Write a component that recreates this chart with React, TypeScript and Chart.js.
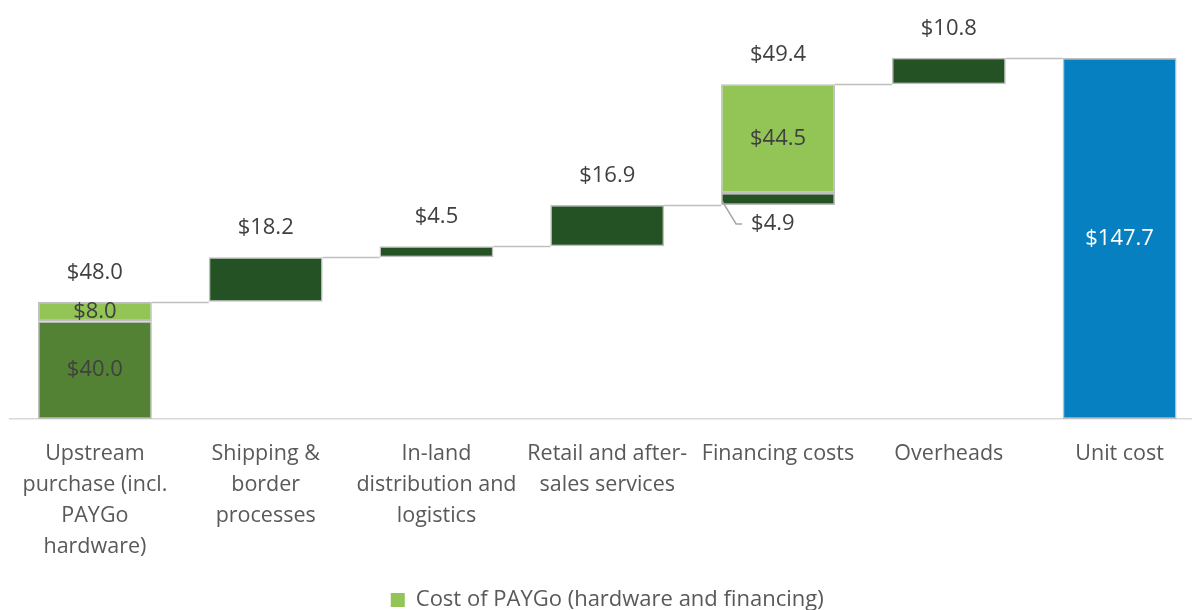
import React, { useEffect, useRef } from "react";
import { Chart, registerables } from "chart.js";

Chart.register(...registerables);

// ---- data ----
const categories: string[][] = [
  ["Upstream", "purchase (incl.", "PAYGo", "hardware)"],
  ["Shipping &", "border", "processes"],
  ["In-land", "distribution and", "logistics"],
  ["Retail and after-", "sales services"],
  ["Financing costs"],
  ["Overheads"],
  ["Unit cost"],
];
// total contribution of each step (label above bar)
const stepTotals = [48.0, 18.2, 4.5, 16.9, 49.4, 10.8];
// part of each step that is the cost of PAYGo
const paygoParts = [8.0, 0, 0, 0, 44.5, 0];
// non-PAYGo part of each step
const otherParts = [40.0, 18.2, 4.5, 16.9, 4.9, 10.8];
const unitCost = 147.7;
const legendLabel = "Cost of PAYGo (hardware and financing)";

const FONT = "'Open Sans', 'Liberation Sans', sans-serif";
const C_DARK = "#245224";
const C_MID = "#548235";
const C_LIGHT = "#92c555";
const C_BLUE = "#0680c0";
const C_BORDER = "#bfbfbf";
const C_TEXT = "#404040";

// build floating ranges
const starts: number[] = [];
{
  let acc = 0;
  for (const t of stepTotals) {
    starts.push(acc);
    acc += t;
  }
}
const n = categories.length;
const baseData: any[] = Array(n).fill(null);
const otherData: any[] = Array(n).fill(null);
const paygoData: any[] = Array(n).fill(null);
const totalData: any[] = Array(n).fill(null);
stepTotals.forEach((t, i) => {
  const s = starts[i];
  const o = otherParts[i];
  if (i === 0) baseData[i] = [s, s + o];
  else otherData[i] = [s, s + o];
  if (paygoParts[i] > 0) paygoData[i] = [s + o, s + o + paygoParts[i]];
});
totalData[n - 1] = [0, unitCost];

const fmt = (v: number) => "$" + v.toFixed(1);

const labelPlugin = {
  id: "waterfallLabels",
  afterDatasetsDraw(chart: any) {
    const ctx = chart.ctx;
    const x = chart.scales.x;
    const y = chart.scales.y;
    const barW = chart.getDatasetMeta(1).data[1].width;
    ctx.save();
    // connectors
    ctx.strokeStyle = C_BORDER;
    ctx.lineWidth = 1.5;
    for (let i = 0; i < n - 1; i++) {
      const level = i < stepTotals.length ? starts[i] + stepTotals[i] : unitCost;
      const py = Math.round(y.getPixelForValue(level)) + 0.5;
      const x1 = x.getPixelForValue(i) + barW / 2;
      const x2 = x.getPixelForValue(i + 1) - barW / 2;
      ctx.beginPath();
      ctx.moveTo(x1, py);
      ctx.lineTo(x2, py);
      ctx.stroke();
    }
    ctx.textAlign = "center";
    ctx.textBaseline = "middle";
    ctx.font = `22px ${FONT}`;
    ctx.fillStyle = C_TEXT;
    // totals above
    stepTotals.forEach((t, i) => {
      const top = y.getPixelForValue(starts[i] + t);
      ctx.fillText(fmt(t), x.getPixelForValue(i), top - 29);
    });
    // inner labels
    stepTotals.forEach((t, i) => {
      const cx = x.getPixelForValue(i);
      const s = starts[i];
      const o = otherParts[i];
      if (paygoParts[i] > 0) {
        const mid = y.getPixelForValue(s + o + paygoParts[i] / 2);
        ctx.fillStyle = C_TEXT;
        ctx.fillText(fmt(paygoParts[i]), cx, mid);
        if (i === 0) {
          ctx.fillText(fmt(o), cx, y.getPixelForValue(s + o / 2));
        } else {
          // leader label for small segment
          const bx = cx - barW / 2 + 1;
          const by = y.getPixelForValue(s) - 4;
          const ly = by + 23;
          ctx.beginPath();
          ctx.moveTo(bx, by);
          ctx.lineTo(bx + 14, ly);
          ctx.lineTo(bx + 20, ly);
          ctx.strokeStyle = "#a6a6a6";
          ctx.lineWidth = 1.5;
          ctx.stroke();
          ctx.textAlign = "left";
          ctx.fillText(fmt(o), bx + 29, ly);
          ctx.textAlign = "center";
        }
      }
    });
    ctx.fillStyle = "#ffffff";
    ctx.fillText(fmt(unitCost), x.getPixelForValue(n - 1), y.getPixelForValue(unitCost / 2));
    ctx.restore();
  },
};

export default function App() {
  const ref = useRef<HTMLCanvasElement>(null);
  useEffect(() => {
    if (!ref.current) return;
    const common = {
      borderColor: C_BORDER,
      borderWidth: 1.5,
      borderSkipped: false,
      grouped: false,
      categoryPercentage: 1,
      barPercentage: 0.667,
    };
    const chart = new Chart(ref.current, {
      type: "bar",
      data: {
        labels: categories as any,
        datasets: [
          { label: "Base", data: baseData, backgroundColor: C_MID, ...common } as any,
          { label: "Other", data: otherData, backgroundColor: C_DARK, ...common } as any,
          { label: legendLabel, data: paygoData, backgroundColor: C_LIGHT, ...common } as any,
          { label: "Unit cost", data: totalData, backgroundColor: C_BLUE, ...common } as any,
        ],
      },
      options: {
        animation: false,
        responsive: false,
        layout: { padding: { left: 9.5, right: 10, top: 28, bottom: -11 } },
        scales: {
          x: {
            grid: { display: false, drawTicks: false },
            border: { display: true, color: "#d9d9d9", width: 1.5 },
            ticks: {
              color: "#595959",
              font: { family: FONT, size: 21.5, lineHeight: 31 / 21.5 },
              padding: 19,
              maxRotation: 0,
              autoSkip: false,
            },
          },
          y: { display: false, min: 0, max: 160 },
        },
        plugins: {
          tooltip: { enabled: false },
          legend: {
            position: "bottom",
            labels: {
              color: "#595959",
              font: { family: FONT, size: 22 },
              boxWidth: 14,
              boxHeight: 14,
              padding: 8,
              generateLabels: () => [
                {
                  text: legendLabel,
                  fillStyle: C_LIGHT,
                  strokeStyle: C_LIGHT,
                  lineWidth: 0,
                  hidden: false,
                  datasetIndex: 2,
                  fontColor: "#595959",
                } as any,
              ],
            },
          },
        },
      } as any,
      plugins: [labelPlugin],
    });
    return () => chart.destroy();
  }, []);
  return (
    <div style={{ position: "absolute", left: 0, top: 0, width: 1192, height: 610, overflow: "hidden", background: "#fff" }}>
      <canvas ref={ref} width={1215} height={610} style={{ display: "block" }} />
    </div>
  );
}
